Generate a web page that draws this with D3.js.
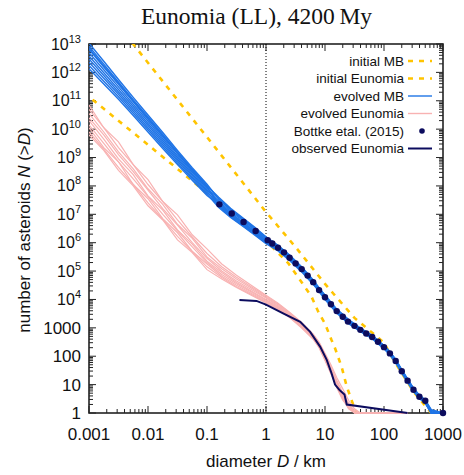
<!DOCTYPE html>
<html><head><meta charset="utf-8">
<script src="https://cdn.jsdelivr.net/npm/d3@7/dist/d3.min.js"></script>
<style>body{margin:0;background:#fff}svg{display:block}</style>
</head><body>
<svg id="c" width="464" height="475"></svg>
<script>
// ---------- data ----------
const xTicks = [0.001, 0.01, 0.1, 1, 10, 100, 1000];
const xTickLabels = ["0.001", "0.01", "0.1", "1", "10", "100", "1000"];
const yTicks = [1, 10, 100, 1000, 1e4, 1e5, 1e6, 1e7, 1e8, 1e9, 1e10, 1e11, 1e12, 1e13];
const yTickBase = ["1", "10", "100", "1000", "10", "10", "10", "10", "10", "10", "10", "10", "10", "10"];
const yTickExp = ["", "", "", "", "4", "5", "6", "7", "8", "9", "10", "11", "12", "13"];

const legendLabels = ["initial MB", "initial Eunomia", "evolved MB", "evolved Eunomia", "Bottke etal. (2015)", "observed Eunomia"];

// initial MB (D in km, log10 N)
const initMBD = [0.00316, 0.1, 1, 3.16, 10, 13.8, 31.6, 100, 145, 316, 631];
const initMBlogN = [13.65, 9.72, 7.08, 5.85, 4.55, 4.21, 3.35, 2.48, 1.87, 0.75, 0.0];

// initial Eunomia
const initEuD = [0.00115, 0.01, 0.0589, 0.316, 1.175, 2.4, 3.8, 5.9, 7.76, 10, 12.9, 14.8, 19.1, 23.4, 28.2, 33.9];
const initEulogN = [11.04, 9.45, 8.14, 6.85, 5.92, 5.27, 4.68, 4.1, 3.55, 3.15, 2.57, 2.28, 1.63, 0.93, 0.45, 0.0];

// evolved MB runs (common D grid, log10 N)
const mbD = [0.001, 0.00178, 0.00316, 0.00562, 0.01, 0.0178, 0.0316, 0.0562, 0.1, 0.158, 0.251, 0.398, 0.631, 1, 1.58, 2.51, 3.98, 6.31, 10, 15.8, 25.1, 39.8, 63.1, 100, 126, 158, 200, 251, 316, 398, 501, 631, 1000];
const mbRun1 = [13.03, 12.39, 11.75, 11.12, 10.5, 9.88, 9.25, 8.64, 8.06, 7.53, 7.15, 6.83, 6.5, 6.16, 5.88, 5.53, 5.12, 4.66, 4.1, 3.6, 3.23, 2.94, 2.69, 2.33, 2.11, 1.84, 1.48, 1.15, 0.83, 0.58, 0.41, 0.05, 0];
const mbRun2 = [12.92, 12.29, 11.66, 11.04, 10.43, 9.81, 9.19, 8.59, 8.01, 7.6, 7.21, 6.89, 6.56, 6.21, 5.92, 5.57, 5.16, 4.69, 4.14, 3.65, 3.28, 2.98, 2.73, 2.37, 2.15, 1.88, 1.52, 1.19, 0.87, 0.62, 0.45, 0.1, 0];
const mbRun3 = [12.81, 12.19, 11.58, 10.96, 10.35, 9.74, 9.13, 8.53, 7.96, 7.38, 7.02, 6.71, 6.39, 6.07, 5.8, 5.45, 5.05, 4.59, 4.16, 3.66, 3.29, 2.99, 2.74, 2.38, 2.16, 1.89, 1.53, 1.2, 0.88, 0.63, 0.46, 0.12, 0];
const mbRun4 = [12.69, 12.09, 11.49, 10.88, 10.28, 9.67, 9.06, 8.48, 7.91, 7.56, 7.18, 6.86, 6.53, 6.19, 5.9, 5.55, 5.14, 4.67, 4.06, 3.57, 3.2, 2.91, 2.66, 2.3, 2.08, 1.81, 1.45, 1.12, 0.8, 0.55, 0.38, 0, 0];
const mbRun5 = [12.58, 11.99, 11.4, 10.8, 10.2, 9.6, 9.0, 8.42, 7.86, 7.47, 7.1, 6.79, 6.46, 6.13, 5.85, 5.5, 5.1, 4.63, 4.12, 3.63, 3.26, 2.96, 2.71, 2.35, 2.13, 1.86, 1.5, 1.17, 0.85, 0.6, 0.43, 0.05, 0];
const mbRun6 = [12.47, 11.89, 11.31, 10.72, 10.13, 9.53, 8.94, 8.37, 7.81, 7.31, 6.95, 6.65, 6.34, 6.02, 5.76, 5.41, 5.02, 4.56, 4.08, 3.59, 3.22, 2.93, 2.68, 2.32, 2.1, 1.83, 1.47, 1.14, 0.82, 0.57, 0.4, 0, 0];
const mbRun7 = [12.36, 11.79, 11.23, 10.64, 10.05, 9.46, 8.88, 8.31, 7.76, 7.42, 7.05, 6.74, 6.42, 6.09, 5.82, 5.47, 5.07, 4.61, 4.02, 3.53, 3.16, 2.88, 2.63, 2.27, 2.05, 1.78, 1.42, 1.09, 0.77, 0.52, 0.35, 0, 0];
const mbRun8 = [12.24, 11.69, 11.14, 10.56, 9.98, 9.39, 8.81, 8.26, 7.71, 7.24, 6.89, 6.59, 6.28, 5.97, 5.72, 5.37, 4.98, 4.53, 4.04, 3.56, 3.19, 2.9, 2.65, 2.29, 2.07, 1.8, 1.44, 1.11, 0.79, 0.54, 0.37, 0, 0];
const mbRun9 = [12.13, 11.59, 11.05, 10.48, 9.9, 9.32, 8.75, 8.2, 7.66, 7.35, 6.99, 6.68, 6.36, 6.04, 5.78, 5.43, 5.03, 4.58, 4.1, 3.61, 3.24, 2.95, 2.7, 2.34, 2.12, 1.85, 1.49, 1.16, 0.84, 0.59, 0.42, 0.03, 0];
const mbRun10 = [12.85, 12.23, 11.61, 10.99, 10.38, 9.77, 9.15, 8.55, 7.98, 7.28, 6.92, 6.62, 6.31, 5.99, 5.74, 5.39, 5.0, 4.55, 4.0, 3.52, 3.15, 2.87, 2.62, 2.26, 2.04, 1.77, 1.41, 1.08, 0.76, 0.51, 0.34, 0, 0];

// evolved Eunomia runs
const euD = [0.001, 0.00178, 0.00316, 0.00562, 0.01, 0.0178, 0.0316, 0.0562, 0.1, 0.178, 0.316, 0.562, 1, 1.58, 2.51, 3.98, 6.31, 7.94, 10, 12.6, 15.8, 20, 25.1, 31.6, 39.8, 251];
const euRun1 = [10.85, 10.05, 9.55, 8.75, 8.22, 7.45, 6.98, 6.28, 5.78, 5.25, 4.85, 4.5, 4.15, 3.88, 3.55, 3.2, 2.78, 2.5, 2.1, 1.7, 1.25, 0.85, 0.45, 0.15, 0, 0];
const euRun2 = [10.7, 10.05, 9.35, 8.75, 8.05, 7.45, 6.8, 6.2, 5.62, 5.15, 4.78, 4.45, 4.12, 3.85, 3.53, 3.18, 2.76, 2.47, 2.05, 1.62, 1.15, 0.7, 0.35, 0.0, 0, 0];
const euRun3 = [10.55, 9.9, 9.2, 8.6, 7.9, 7.35, 6.65, 6.15, 5.5, 5.08, 4.72, 4.4, 4.08, 3.82, 3.5, 3.15, 2.74, 2.45, 2.0, 1.55, 1.1, 0.6, 0.3, 0, 0, 0];
const euRun4 = [10.4, 9.8, 9.1, 8.5, 7.85, 7.2, 6.62, 6.0, 5.45, 5.0, 4.65, 4.35, 4.05, 3.78, 3.47, 3.13, 2.72, 2.43, 1.98, 1.5, 1.0, 0.55, 0.2, 0, 0, 0];
const euRun5 = [10.3, 9.65, 8.95, 8.4, 7.65, 7.15, 6.45, 5.95, 5.35, 4.95, 4.6, 4.3, 4.0, 3.75, 3.45, 3.1, 2.7, 2.4, 1.95, 1.48, 1.05, 0.65, 0.3, 0.0, 0, 0];
const euRun6 = [10.15, 9.5, 8.85, 8.25, 7.62, 7.0, 6.42, 5.85, 5.3, 4.88, 4.55, 4.26, 3.97, 3.72, 3.42, 3.08, 2.68, 2.38, 1.92, 1.45, 0.95, 0.5, 0.15, 0, 0, 0];
const euRun7 = [10.05, 9.35, 8.85, 8.05, 7.55, 6.85, 6.35, 5.7, 5.25, 4.82, 4.5, 4.22, 3.94, 3.7, 3.4, 3.05, 2.65, 2.35, 1.9, 1.42, 0.98, 0.6, 0.3, 0.1, 0, 0];
const euRun8 = [9.9, 9.3, 8.65, 8.05, 7.4, 6.82, 6.22, 5.68, 5.15, 4.77, 4.45, 4.18, 3.9, 3.67, 3.38, 3.03, 2.62, 2.32, 1.88, 1.4, 0.9, 0.45, 0.2, 0.0, 0, 0];
const euRun9 = [9.8, 9.25, 8.55, 8.0, 7.3, 6.8, 6.1, 5.65, 5.05, 4.72, 4.42, 4.15, 3.88, 3.65, 3.36, 3.0, 2.6, 2.3, 1.85, 1.38, 0.92, 0.5, 0.25, 0.05, 0, 0];

// Bottke et al. (2015)
const bottkeD = [0.162, 0.263, 0.417, 0.668, 1.07, 1.28, 1.6, 2.02, 2.51, 3.18, 4.03, 5.08, 6.31, 7.94, 10, 12.6, 15.8, 20, 24.5, 31.6, 39.8, 50, 63, 79, 100, 126, 158, 200, 251, 316, 398, 501, 1000];
const bottkeLogN = [7.35, 7.03, 6.73, 6.41, 6.09, 5.97, 5.82, 5.66, 5.47, 5.27, 5.07, 4.84, 4.61, 4.33, 4.08, 3.83, 3.59, 3.39, 3.22, 3.07, 2.93, 2.8, 2.68, 2.51, 2.32, 2.1, 1.83, 1.47, 1.14, 0.82, 0.57, 0.43, 0.0];

// observed Eunomia
const obsD = [0.355, 0.69, 1.0, 1.95, 3.8, 5.6, 8.3, 10.7, 12.9, 14.8, 17.8, 21.4, 23.4, 251];
const obsLogN = [3.98, 3.95, 3.82, 3.51, 3.21, 2.86, 2.33, 1.87, 1.4, 1.0, 0.8, 0.65, 0.3, 0.0];

// ---------- drawing ----------
const L = 89, R = 443, T = 44, B = 413;
const svg = d3.select("#c");
const x = d3.scaleLog().domain([0.001, 1000]).range([L, R]);
const y = d3.scaleLog().domain([1, 1e13]).range([B, T]);
const SANS = "'Liberation Sans', Arial, Helvetica, sans-serif";

const COL_Y = "#ffc400", COL_B = "#1f74e6", COL_P = "#f8b2b2", COL_N = "#0c0c5e";

svg.append("defs").append("clipPath").attr("id", "clip")
  .append("rect").attr("x", L).attr("y", T).attr("width", R - L).attr("height", B - T + 2);

const toPts = (D, lg) => D.map((d, i) => [d, Math.pow(10, lg[i])]);
const line = d3.line().x(d => x(d[0])).y(d => y(d[1]));

// frame and ticks (drawn first, data drawn over it as in gnuplot)
const ax = svg.append("g").attr("stroke", "#222");
const MAJ = 7, MIN = 4;
for (let k = -3; k <= 3; k++) {
  for (let m = 1; m <= 9; m++) {
    const v = m * Math.pow(10, k);
    if (v > 1000.0001) continue;
    const px = x(v), len = m === 1 ? MAJ : MIN;
    ax.append("line").attr("x1", px).attr("x2", px).attr("y1", B).attr("y2", B - len).attr("stroke-width", 1);
    ax.append("line").attr("x1", px).attr("x2", px).attr("y1", T).attr("y2", T + len).attr("stroke-width", 1);
  }
}
for (let k = 0; k <= 13; k++) {
  for (let m = 1; m <= 9; m++) {
    const v = m * Math.pow(10, k);
    if (v > 1.0001e13) continue;
    const py = y(v), len = m === 1 ? MAJ : MIN;
    ax.append("line").attr("y1", py).attr("y2", py).attr("x1", L).attr("x2", L + len).attr("stroke-width", 1);
    ax.append("line").attr("y1", py).attr("y2", py).attr("x1", R).attr("x2", R - len).attr("stroke-width", 1);
  }
}
ax.append("rect").attr("x", L).attr("y", T).attr("width", R - L).attr("height", B - T)
  .attr("fill", "none").attr("stroke-width", 1.6);

// dotted vertical line at D = 1
svg.append("line").attr("x1", x(1)).attr("x2", x(1)).attr("y1", T).attr("y2", B)
  .attr("stroke", "#000").attr("stroke-width", 1).attr("stroke-dasharray", "1,2");

const g = svg.append("g").attr("clip-path", "url(#clip)");

// initial curves
[[initMBD, initMBlogN], [initEuD, initEulogN]].forEach(([D, lg]) => {
  g.append("path").attr("d", line(toPts(D, lg))).attr("fill", "none")
    .attr("stroke", COL_Y).attr("stroke-width", 2.6).attr("stroke-dasharray", "5,6");
});

// evolved MB
[mbRun1, mbRun2, mbRun3, mbRun4, mbRun5, mbRun6, mbRun7, mbRun8, mbRun9, mbRun10].forEach(r => {
  g.append("path").attr("d", line(toPts(mbD, r))).attr("fill", "none")
    .attr("stroke", COL_B).attr("stroke-width", 1.4);
});

// evolved Eunomia
[euRun1, euRun2, euRun3, euRun4, euRun5, euRun6, euRun7, euRun8, euRun9].forEach(r => {
  g.append("path").attr("d", line(toPts(euD, r))).attr("fill", "none")
    .attr("stroke", COL_P).attr("stroke-width", 1.2);
});

// Bottke points
svg.selectAll("circle.bk").data(toPts(bottkeD, bottkeLogN)).enter().append("circle")
  .attr("class", "bk")
  .attr("cx", d => x(d[0])).attr("cy", d => y(d[1])).attr("r", 3.2).attr("fill", COL_N);

// observed Eunomia
g.append("path").attr("d", line(toPts(obsD, obsLogN))).attr("fill", "none")
  .attr("stroke", COL_N).attr("stroke-width", 2);

// x tick labels
svg.selectAll("text.xt").data(xTicks).enter().append("text")
  .attr("class", "xt")
  .attr("x", d => x(d)).attr("y", 440).attr("text-anchor", "middle")
  .attr("font-family", SANS).attr("font-size", 17).attr("fill", "#111")
  .text((d, i) => xTickLabels[i]);

// y tick labels
yTicks.forEach((v, i) => {
  const hasExp = !!yTickExp[i];
  const t = svg.append("text").attr("x", 81).attr("y", y(v) + (hasExp ? 5.5 : 6)).attr("text-anchor", "end")
    .attr("font-family", SANS).attr("font-size", hasExp ? 16 : 17).attr("fill", "#111");
  t.append("tspan").text(yTickBase[i]);
  if (hasExp) t.append("tspan").attr("dy", -7).attr("font-size", 11).text(yTickExp[i]);
});

// axis titles
const xl = svg.append("text").attr("x", 266).attr("y", 467).attr("text-anchor", "middle")
  .attr("font-family", SANS).attr("font-size", 17).attr("fill", "#111");
xl.append("tspan").text("diameter ");
xl.append("tspan").attr("font-style", "italic").text("D");
xl.append("tspan").text(" / km");

const yl = svg.append("text").attr("transform", "translate(30,230) rotate(-90)").attr("text-anchor", "middle")
  .attr("font-family", SANS).attr("font-size", 17).attr("fill", "#111");
yl.append("tspan").text("number of asteroids ");
yl.append("tspan").attr("font-style", "italic").text("N");
yl.append("tspan").text(" (>");
yl.append("tspan").attr("font-style", "italic").text("D");
yl.append("tspan").text(")");

// title
svg.append("text").attr("x", 256.5).attr("y", 23.5).attr("text-anchor", "middle")
  .attr("font-family", "'Liberation Serif', 'Times New Roman', serif").attr("font-size", 23.5)
  .attr("fill", "#111").text("Eunomia (LL), 4200\u2009My");

// legend
const rowY = [61, 78.5, 96, 113.5, 131, 148.5];
const lg = svg.append("g");
legendLabels.forEach((lab, i) => {
  lg.append("text").attr("x", 404).attr("y", rowY[i]).attr("dy", "0.36em").attr("text-anchor", "end")
    .attr("font-family", SANS).attr("font-size", 13.5).attr("fill", "#111").text(lab);
});
lg.append("line").attr("x1", 408).attr("x2", 432).attr("y1", rowY[0]).attr("y2", rowY[0])
  .attr("stroke", COL_Y).attr("stroke-width", 2.6).attr("stroke-dasharray", "5,6");
lg.append("line").attr("x1", 408).attr("x2", 432).attr("y1", rowY[1]).attr("y2", rowY[1])
  .attr("stroke", COL_Y).attr("stroke-width", 2.6).attr("stroke-dasharray", "5,6");
lg.append("line").attr("x1", 408).attr("x2", 432).attr("y1", rowY[2]).attr("y2", rowY[2])
  .attr("stroke", COL_B).attr("stroke-width", 1.4);
lg.append("line").attr("x1", 408).attr("x2", 432).attr("y1", rowY[3]).attr("y2", rowY[3])
  .attr("stroke", COL_P).attr("stroke-width", 1.4);
lg.append("circle").attr("cx", 422).attr("cy", rowY[4]).attr("r", 2.8).attr("fill", COL_N);
lg.append("line").attr("x1", 408).attr("x2", 432).attr("y1", rowY[5]).attr("y2", rowY[5])
  .attr("stroke", COL_N).attr("stroke-width", 2);
</script>
</body></html>
